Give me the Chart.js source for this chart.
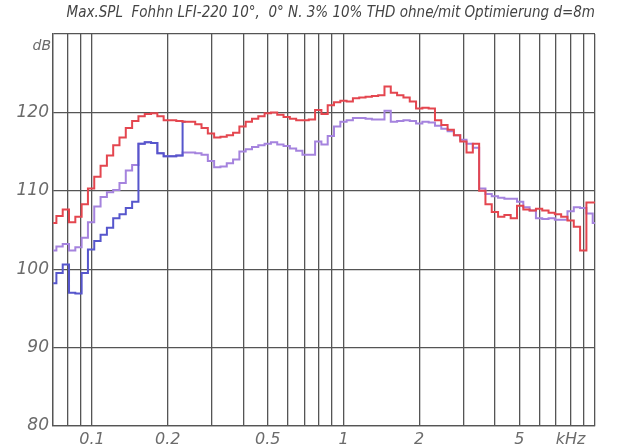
<!DOCTYPE html>
<html>
<head>
<meta charset="utf-8">
<script src="https://cdn.jsdelivr.net/npm/chart.js@4"></script>
<style>
  body { margin: 0; background: #fff; }
  canvas { display: block; background: #fff; }
</style>
</head>
<body>
<canvas id="spl" width="621" height="445"></canvas>
<script>
// frequency points in kHz (1/12 octave steps)
const freqs = [
  0.07015, 0.07433, 0.07875, 0.08343, 0.08839, 0.09364, 0.09921, 0.1051, 0.1114, 0.1180,
  0.125, 0.1324, 0.1403, 0.1487, 0.1575, 0.1669, 0.1768, 0.1873, 0.1984, 0.2102,
  0.2227, 0.2360, 0.25, 0.2649, 0.2806, 0.2973, 0.3150, 0.3337, 0.3536, 0.3746,
  0.3969, 0.4204, 0.4454, 0.4719, 0.5, 0.5297, 0.5612, 0.5946, 0.6300, 0.6674,
  0.7071, 0.7492, 0.7937, 0.8409, 0.8909, 0.9439, 1, 1.059, 1.122, 1.189,
  1.260, 1.335, 1.414, 1.498, 1.587, 1.682, 1.782, 1.888, 2, 2.119,
  2.245, 2.378, 2.520, 2.670, 2.828, 2.997, 3.175, 3.364, 3.564, 3.775,
  4, 4.238, 4.490, 4.757, 5.040, 5.339, 5.657, 5.993, 6.350, 6.727,
  7.127, 7.551, 8, 8.476, 8.980, 9.514, 10.08
];

// red curve, dB
const redSpl = [
  105.9, 106.8, 107.6, 106.0, 106.7, 108.3, 110.3, 111.8, 113.2, 114.5,
  115.8, 116.8, 118.0, 118.9, 119.5, 119.8, 119.9, 119.5, 119.0, 119.0,
  118.9, 118.8, 118.8, 118.5, 118.0, 117.3, 116.8, 116.9, 117.1, 117.4,
  118.2, 118.8, 119.2, 119.5, 119.9, 120.0, 119.7, 119.4, 119.2, 119.0,
  119.0, 119.1, 120.3, 119.8, 120.9, 121.3, 121.5, 121.4, 121.8, 121.9,
  122.0, 122.1, 122.2, 123.3, 122.5, 122.2, 121.9, 121.4, 120.5, 120.6,
  120.5, 119.0, 118.4, 117.8, 117.1, 116.3, 114.9, 116.0, 110.0, 108.3,
  107.3, 106.7, 106.9, 106.5, 108.1, 107.6, 107.5, 107.7, 107.5, 107.2,
  107.0, 106.7, 106.2, 105.4, 102.4, 108.5, 108.5
];

// violet curve, dB
const violetSpl = [
  102.4, 102.9, 103.2, 102.4, 102.8, 104.0, 106.0, 108.0, 109.2, 109.8,
  110.1, 111.0, 112.6, 113.3, 116.0, 116.2, 116.1, 114.8, 114.4, 114.4,
  114.5, 114.9, 114.9, 114.8, 114.6, 113.8, 113.0, 113.1, 113.5, 114.0,
  115.0, 115.3, 115.6, 115.8, 116.0, 116.2, 115.9, 115.7, 115.4, 115.1,
  114.6, 114.6, 116.3, 115.9, 117.0, 118.2, 118.8, 119.0, 119.3, 119.3,
  119.2, 119.1, 119.1, 120.2, 118.8, 118.9, 119.0, 118.9, 118.6, 118.8,
  118.7, 118.3, 117.9, 117.6, 117.1, 116.5, 116.0, 115.5, 110.3, 109.6,
  109.3, 109.1, 109.0, 109.0, 108.6, 107.9, 107.5, 106.5, 106.4, 106.5,
  106.3, 106.3, 107.4, 107.9, 107.8, 107.1, 105.9
];

// blue curve, dB (runs under the red one above 0.24 kHz)
const blueSpl = [
  98.2, 99.5, 100.6, 97.0, 96.9, 99.5, 102.5, 103.6, 104.4, 105.3,
  106.5, 107.0, 107.8, 108.6, 116.0, 116.2, 116.1, 114.8, 114.4, 114.4,
  114.5, 118.8
];

const xGrid = [0.07, 0.08, 0.09, 0.1, 0.2, 0.3, 0.4, 0.5, 0.6, 0.7, 0.8, 0.9,
  1, 2, 3, 4, 5, 6, 7, 8, 9, 10];
const xLabels = { 0.1: "0.1", 0.2: "0.2", 0.5: "0.5", 1: "1", 2: "2", 5: "5", 8: "kHz" };
const yTicks = [80, 90, 100, 110, 120, 130];

const title = "Max.SPL  Fohhn LFI-220 10°,  0° N. 3% 10% THD ohne/mit Optimierung d=8m";

const gridColor = "#555";
const labelColor = "#6b6b6b";

function points(values) {
  return values.map((v, i) => ({ x: freqs[i], y: v }));
}

const dbLabel = {
  id: "dbLabel",
  afterDraw(chart) {
    const ctx = chart.ctx;
    ctx.save();
    ctx.font = "italic 14px 'DejaVu Sans'";
    ctx.fillStyle = labelColor;
    ctx.textAlign = "right";
    ctx.textBaseline = "middle";
    ctx.fillText("dB", chart.chartArea.left - 2, chart.chartArea.top + 12);
    ctx.restore();
  }
};

new Chart(document.getElementById("spl"), {
  type: "line",
  data: {
    datasets: [
      {
        label: "rot",
        data: points(redSpl),
        borderColor: "#e4464f",
        borderWidth: 2,
        stepped: "middle",
        pointRadius: 0
      },
      {
        label: "blau",
        data: points(blueSpl),
        borderColor: "#5656cc",
        borderWidth: 2,
        stepped: "middle",
        pointRadius: 0
      },
      {
        label: "violett",
        data: points(violetSpl),
        borderColor: "#a583de",
        borderWidth: 2,
        stepped: "middle",
        pointRadius: 0
      }
    ]
  },
  options: {
    responsive: false,
    animation: false,
    devicePixelRatio: 1,
    layout: { padding: { left: 0, right: 26, top: 0, bottom: 0 } },
    plugins: {
      legend: { display: false },
      tooltip: { enabled: false },
      title: {
        display: true,
        text: title,
        align: "end",
        color: "#444",
        font: { family: "'DejaVu Sans Condensed', 'Liberation Sans Narrow', 'DejaVu Sans'", size: 15, style: "italic", weight: "normal", lineHeight: 1.2 },
        padding: { top: 4, bottom: 12 }
      }
    },
    scales: {
      x: {
        type: "logarithmic",
        min: 0.07,
        max: 10,
        afterBuildTicks: scale => {
          scale.ticks = xGrid.map(v => ({ value: v }));
        },
        afterFit: scale => { scale.height = 19; },
        ticks: {
          autoSkip: false,
          maxRotation: 0,
          padding: 4,
          color: labelColor,
          font: { family: "'DejaVu Sans'", size: 16, style: "italic" },
          callback: v => xLabels[+v.toPrecision(3)] || ""
        },
        grid: { color: gridColor, lineWidth: 1.3, drawTicks: false },
        border: { color: gridColor, width: 1.3 }
      },
      y: {
        min: 80,
        max: 130,
        afterBuildTicks: scale => {
          scale.ticks = yTicks.map(v => ({ value: v }));
        },
        afterFit: scale => { scale.width = 53; },
        ticks: {
          padding: 4,
          color: labelColor,
          font: { family: "'DejaVu Sans'", size: 17, style: "italic" },
          callback: v => (v === 130 ? "" : v)
        },
        grid: { color: gridColor, lineWidth: 1.3, drawTicks: false },
        border: { color: gridColor, width: 1.3 }
      }
    }
  },
  plugins: [dbLabel]
});
</script>
</body>
</html>
